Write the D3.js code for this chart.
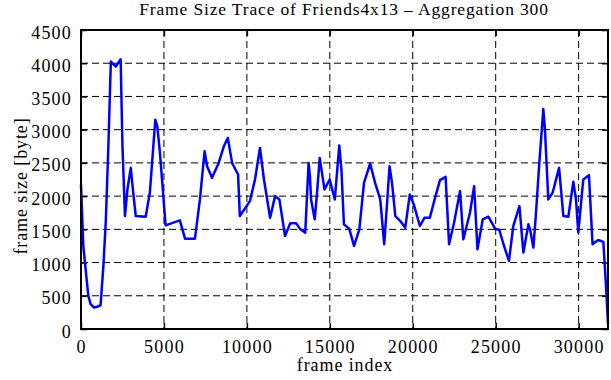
<!DOCTYPE html>
<html><head><meta charset="utf-8">
<script src="https://cdn.jsdelivr.net/npm/d3@7"></script>
<style>body{margin:0;background:#fff}svg{display:block}text{font-family:"Liberation Serif","Times New Roman",serif;fill:#000}</style>
</head><body><svg id="c" width="611" height="380"></svg>
<script>
const title = "Frame Size Trace of Friends4x13 \u2013 Aggregation 300";
const xLabel = "frame index";
const yLabel = "frame size [byte]";
const xTicks = [0,5000,10000,15000,20000,25000,30000];
const yTicks = [0,500,1000,1500,2000,2500,3000,3500,4000,4500];
const frameIndex = [0,140,300,440,580,780,940,1180,1350,1500,1650,1800,2100,2390,2500,2650,2800,3000,3150,3300,3900,4150,4480,4600,4760,5100,5960,6270,6870,7170,7450,7600,7900,8300,8610,8850,9110,9310,9470,9575,9980,10180,10490,10790,11030,11400,11700,11960,12300,12610,12975,13220,13520,13720,13800,13870,14090,14230,14390,14680,14990,15300,15570,15700,15850,16170,16460,16780,17060,17430,17730,18040,18280,18440,18600,18750,18950,19250,19550,19820,20060,20430,20710,21030,21320,21640,21980,22190,22490,22850,23050,23250,23450,23700,23900,24220,24560,24960,25220,25500,25800,26060,26430,26670,26970,27070,27270,27430,27630,27870,27970,28170,28430,28820,29080,29380,29680,29840,29980,30280,30620,30840,31180,31490,31650,31770];
const frameSize = [2175,1250,850,500,375,325,330,360,950,1650,2750,4025,3950,4060,2750,1700,2100,2425,2050,1700,1690,2050,3150,3050,2650,1560,1635,1360,1360,1950,2675,2450,2275,2500,2750,2875,2500,2400,2325,1700,1850,1925,2250,2725,2250,1675,2000,1950,1400,1590,1590,1500,1450,2500,2300,1950,1650,2050,2575,2100,2250,1950,2760,2400,1575,1510,1250,1500,2200,2490,2200,1950,1275,1850,2450,2200,1700,1625,1525,2025,1875,1550,1675,1675,1950,2240,2290,1275,1600,2075,1350,1550,1750,2150,1200,1650,1690,1510,1490,1250,1025,1550,1850,1150,1575,1500,1225,1750,2500,3310,3000,1950,2050,2425,1700,1690,2215,1950,1450,2250,2315,1275,1340,1310,650,75];

const svg = d3.select("#c");
const L = 81, R = 608, T = 30, B = 329;
const x = d3.scaleLinear().domain([0, 31770]).range([L, R]);
const y = d3.scaleLinear().domain([0, 4500]).range([B, T]);

// grid
const g = svg.append("g");
g.selectAll("line.gx").data(xTicks.slice(1)).join("line")
  .attr("x1", d => x(d)).attr("x2", d => x(d)).attr("y1", T).attr("y2", B)
  .attr("stroke", "#000").attr("stroke-width", 1).attr("stroke-dasharray", "7,4");
g.selectAll("line.gy").data(yTicks.slice(1, -1)).join("line")
  .attr("x1", L).attr("x2", R).attr("y1", d => y(d)).attr("y2", d => y(d))
  .attr("stroke", "#000").attr("stroke-width", 1).attr("stroke-dasharray", "7,4");

// axes
const fs = 18;
const xa = svg.append("g").attr("transform", `translate(0,${B})`)
  .call(d3.axisBottom(x).tickValues(xTicks).tickFormat(d3.format("d")).tickSizeInner(-6).tickSizeOuter(0).tickPadding(11));
const xa2 = svg.append("g").attr("transform", `translate(0,${T})`)
  .call(d3.axisTop(x).tickValues(xTicks).tickFormat("").tickSizeInner(-6).tickSizeOuter(0));
const ya = svg.append("g").attr("transform", `translate(${L},0)`)
  .call(d3.axisLeft(y).tickValues(yTicks).tickFormat(d3.format("d")).tickSizeInner(-6).tickSizeOuter(0).tickPadding(10));
const ya2 = svg.append("g").attr("transform", `translate(${R},0)`)
  .call(d3.axisRight(y).tickValues(yTicks).tickFormat("").tickSizeInner(-6).tickSizeOuter(0));
[xa, xa2, ya, ya2].forEach(a => {
  a.select(".domain").remove();
  a.selectAll(".tick line").attr("stroke", "#000").attr("stroke-width", 1.5);
  a.selectAll("text").attr("font-size", fs).attr("font-family", "Liberation Serif").attr("letter-spacing", "1.2px");
});
ya.selectAll("text").attr("dy", "0.45em").attr("dx", "1px");

// line
svg.append("path").datum(frameIndex.map((f, i) => [f, frameSize[i]]))
  .attr("fill", "none").attr("stroke", "#0000ff").attr("stroke-width", 2.5).attr("stroke-linejoin", "round")
  .attr("d", d3.line().x(d => x(d[0])).y(d => y(d[1])));

// border
svg.append("rect").attr("x", L).attr("y", T).attr("width", R - L).attr("height", B - T)
  .attr("fill", "none").attr("stroke", "#000").attr("stroke-width", 2);

svg.append("text").attr("x", 344).attr("y", 15).attr("text-anchor", "middle").attr("font-size", 17.5).attr("letter-spacing", "0.85px").text(title);
svg.append("text").attr("x", 345).attr("y", 371).attr("text-anchor", "middle").attr("font-size", fs).attr("letter-spacing", "0.9px").text(xLabel);
svg.append("text").attr("transform", "translate(27,186) rotate(-90)").attr("text-anchor", "middle").attr("font-size", fs).attr("letter-spacing", "0.9px").text(yLabel);
</script></body></html>
